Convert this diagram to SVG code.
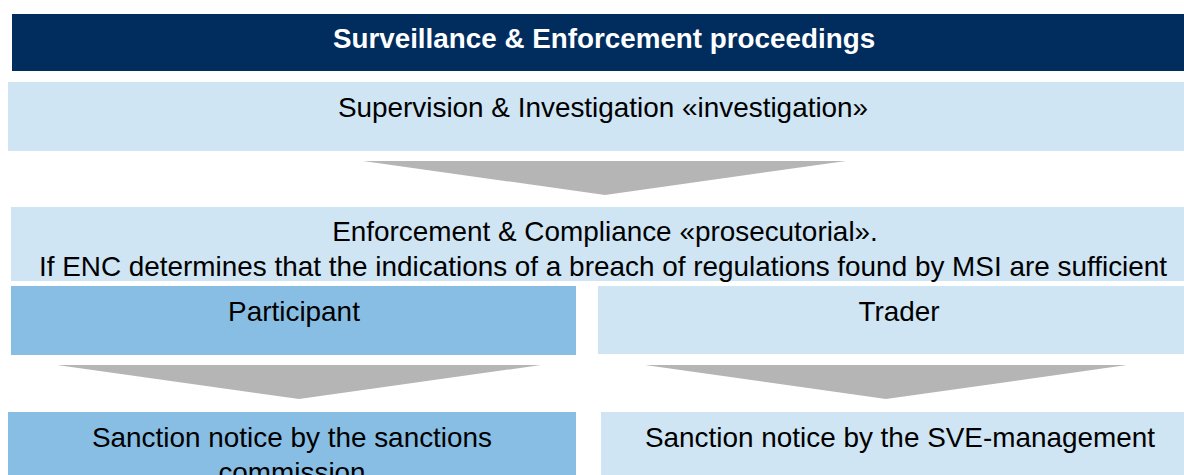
<svg xmlns="http://www.w3.org/2000/svg" width="1184" height="475" viewBox="0 0 1184 475">
  <style>
    text { font-family: "Liberation Sans", Arial, sans-serif; font-size: 27.9px; fill: #000000; text-anchor: middle; }
    .title { font-weight: bold; font-size: 27.8px; fill: #ffffff; }
    .navy { fill: #002D5E; }
    .light { fill: #CFE5F3; }
    .mid { fill: #88BEE3; }
    .arrow { fill: #B5B5B5; }
  </style>
  <rect width="1184" height="475" fill="#ffffff"/>
  <g id="title">
    <rect class="navy" x="12" y="14" width="1172" height="57"/>
    <text class="title" x="604" y="47.5">Surveillance &amp; Enforcement proceedings</text>
  </g>
  <g id="supervision">
    <rect class="light" x="8" y="82" width="1176" height="69"/>
    <text x="603" y="116.5">Supervision &amp; Investigation «investigation»</text>
  </g>
  <g id="enforcement">
    <rect class="light" x="11" y="207" width="1173" height="74"/>
    <text x="605" y="241">Enforcement &amp; Compliance «prosecutorial».</text>
    <text x="603" y="275.5">If ENC determines that the indications of a breach of regulations found by MSI are sufficient</text>
  </g>
  <g id="participant">
    <rect class="mid" x="11" y="286" width="565" height="69"/>
    <text x="294" y="321">Participant</text>
  </g>
  <g id="trader">
    <rect class="light" x="598" y="286" width="586" height="68"/>
    <text x="899" y="321">Trader</text>
  </g>
  <g id="sanctions-commission">
    <rect class="mid" x="8" y="412" width="568" height="63"/>
    <text x="292" y="447">Sanction notice by the sanctions</text>
    <text x="292" y="482">commission</text>
  </g>
  <g id="sve-management">
    <rect class="light" x="601" y="412" width="583" height="63"/>
    <text x="900" y="447">Sanction notice by the SVE-management</text>
  </g>
  <g id="connectors">
    <polygon class="arrow" points="363,161 846,161 605,195"/>
    <polygon class="arrow" points="57,365 541,365 299,399"/>
    <polygon class="arrow" points="645,365 1127,365 886,399"/>
  </g>
</svg>
